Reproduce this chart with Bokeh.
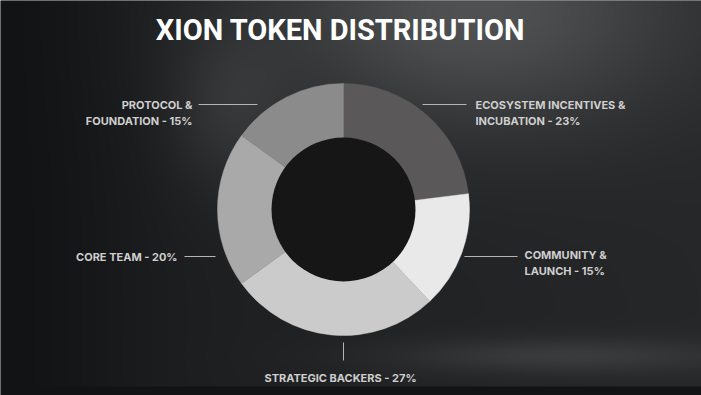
import numpy as np
from bokeh.plotting import figure
from bokeh.models import Range1d, ColumnDataSource
from bokeh.core.properties import value
from bokeh.embed import file_html
from bokeh.resources import INLINE

# ---- data ----
title = "XION TOKEN DISTRIBUTION"
categories = ["ECOSYSTEM INCENTIVES &\nINCUBATION", "COMMUNITY &\nLAUNCH",
              "STRATEGIC BACKERS", "CORE TEAM", "PROTOCOL &\nFOUNDATION"]
shares = [23, 15, 27, 20, 15]
colors = ["#5b5859", "#e9e9e9", "#cbcbcb", "#a9a9a9", "#8b8b8b"]

# ---- layout (pixel-like coordinates, y measured from top) ----
W, H = 701, 395
CX, CY = 343, 209
R_OUT, R_IN = 126, 72
label_layout = [
    dict(tx=475, ty=97, align="left", lx=(422, 466), ly=(104, 104)),
    dict(tx=524, ty=247, align="left", lx=(464, 517), ly=(256, 256)),
    dict(tx=340, ty=370, align="center", lx=(343, 343), ly=(342, 360)),
    dict(tx=177, ty=249, align="right", lx=(184, 215), ly=(256, 256)),
    dict(tx=192, ty=97, align="right", lx=(198, 257), ly=(104, 104)),
]

def fy(y):
    return H - y

p = figure(width=W, height=H, x_range=Range1d(0, W), y_range=Range1d(0, H),
           output_backend="svg", toolbar_location=None, min_border=0)
p.axis.visible = False
p.grid.visible = False
p.outline_line_color = None
p.background_fill_color = "#1e1f22"
p.border_fill_color = "#1e1f22"

# background gradient (decorative)
yy, xx = np.mgrid[0:H, 0:W].astype(float)
ytop = H - 1 - yy
v = 28.0 + 0.0 * xx
v += 45 * np.exp(-(((xx - 470) / 210) ** 2 + ((ytop - 10) / 120) ** 2))
v += 18 * np.exp(-(((xx - 230) / 60) ** 2 + ((ytop - 110) / 80) ** 2))
v += 22 * np.exp(-(((xx - 560) / 170) ** 2 + ((ytop - 355) / 18) ** 2))
v += 10 * (xx / W)
v -= 10 * np.exp(-((xx - 0) / 140) ** 2)
v[ytop > 385] = 18
v = np.clip(v, 0, 255).astype(np.uint32)
img = (255 << 24) | ((v + 2) << 16) | ((v + 1) << 8) | v
p.image_rgba(image=[img.astype(np.uint32)], x=0, y=0, dw=W, dh=H)

# donut
cum = np.cumsum([0] + shares) / sum(shares)
start = np.pi / 2 - 2 * np.pi * cum[1:]
end = np.pi / 2 - 2 * np.pi * cum[:-1]
src = ColumnDataSource(dict(start=start, end=end, color=colors))
p.annular_wedge(x=CX, y=fy(CY), inner_radius=R_IN - 1, outer_radius=R_OUT,
                start_angle="start", end_angle="end", fill_color="color",
                line_color="color", line_width=0.5, source=src)
p.circle(x=CX, y=fy(CY), radius=R_IN, fill_color="#161616", line_color=None)

# labels and leader lines
for name, share, lay in zip(categories, shares, label_layout):
    p.segment(x0=lay["lx"][0], y0=fy(lay["ly"][0]), x1=lay["lx"][1], y1=fy(lay["ly"][1]),
              line_color="#b5b5b5", line_width=1)
    p.text(x=[lay["tx"]], y=[fy(lay["ty"])], text=[f"{name} - {share}%"],
           text_align=lay["align"], text_baseline="top",
           text_font=value("Inter"), text_font_size="11px", text_font_style="bold",
           text_color="#cfcfcf", text_line_height=1.2)

p.text(x=[340], y=[fy(29)], text=[title], text_align="center", text_baseline="middle",
       text_font=value("Roboto"), text_font_size="29px", text_font_style="bold",
       text_color="#ffffff")

open("out.html", "w").write(file_html(p, INLINE))
